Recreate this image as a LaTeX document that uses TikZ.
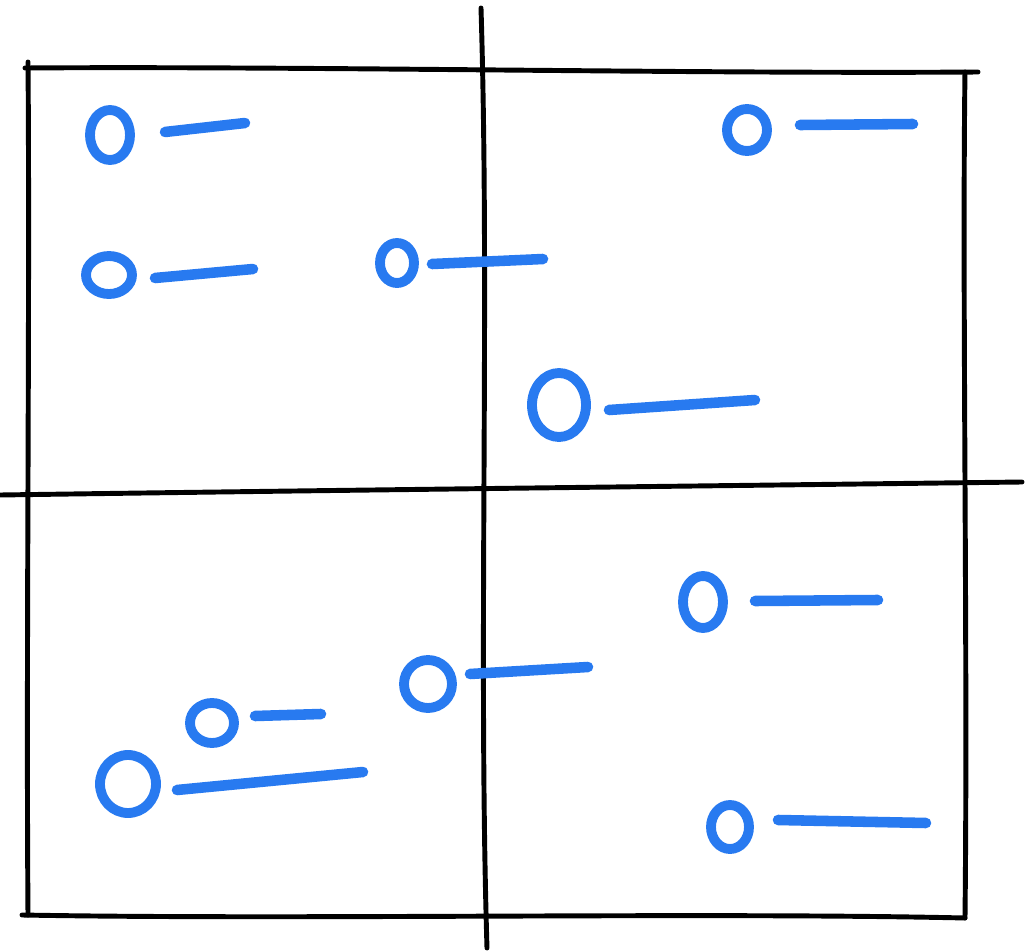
\documentclass[tikz,border=0pt]{standalone}
\usetikzlibrary{shapes.geometric}
\definecolor{penblue}{RGB}{40,122,240}
\tikzset{
  pen/.style={line width=1.4pt, line cap=round, line join=round},
  blob/.style={ellipse, draw=penblue, line width=2.8pt, inner sep=0pt},
  dash line/.style={penblue, line width=3pt, line cap=round}
}
\begin{document}
\begin{tikzpicture}[x=0.01cm, y=-0.01cm]
    \useasboundingbox (0,0) rectangle (1026,951);

    \draw[pen] (25,68) .. controls (300,66) and (700,74) .. (978,72);
    \draw[pen] (965,72) .. controls (962,300) and (968,650) .. (965,918);
    \draw[pen] (22,915) .. controls (300,920) and (700,912) .. (965,918);
    \draw[pen] (28,62) .. controls (30,300) and (26,650) .. (28,915);
    \draw[pen] (481,8) .. controls (490,300) and (478,650) .. (487,948);
    \draw[pen] (0,495) .. controls (350,490) and (700,486) .. (1022,482);

    \foreach \n/\cx/\cy/\rx/\ry/\ax/\ay/\bx/\by in {
        a/110/135/20/25/165/132/245/123,
        b/109/275/23/19/155/278/253/269,
        c/397/263/17/20/432/264/543/259,
        d/747/130/20/21/800/125/913/124,
        e/559/405/27/32/609/410/755/400,
        f/703/602/20/26/755/601/878/600,
        g/428/684/24/24/470/674/588/667,
        h/212/723/22/20/255/716/321/714,
        k/128/784/28/29/177/790/363/772,
        m/730/827/19/22/778/820/926/823} {
        \node[blob, minimum width=2*\rx*0.01cm, minimum height=2*\ry*0.01cm]
            (o\n) at (\cx,\cy) {};
        \draw[dash line] (\ax,\ay) -- (\bx,\by);
    }
\end{tikzpicture}
\end{document}
